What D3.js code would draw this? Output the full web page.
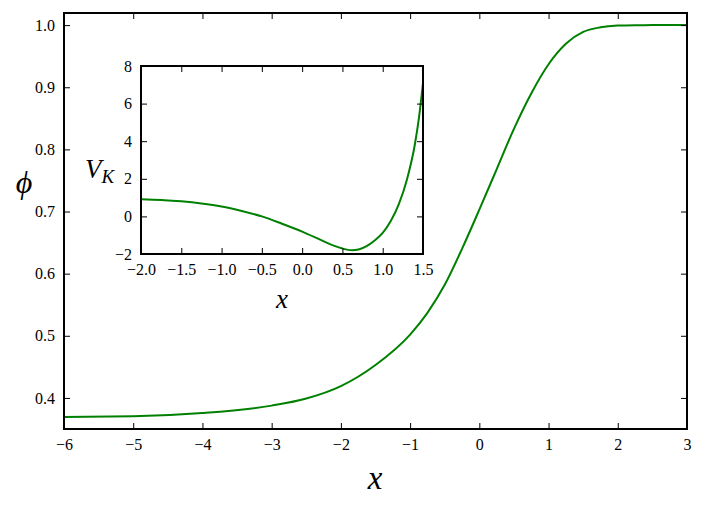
<!DOCTYPE html>
<meta charset="utf-8" />
<html>
<head>
<title>phi and V_K</title>
<script src="https://cdn.jsdelivr.net/npm/d3@7"></script>
<style>
  body { margin: 0; background: #fff; }
  svg text { fill: #000; font-family: "Liberation Serif", "DejaVu Serif", serif !important; }
  .tick text { font-size: 16px; }
  .tick line { stroke: #000; stroke-width: 1; }
</style>
</head>
<body>
<div id="viz"></div>
<script>

// main curve phi(x)
var mainX   = [-6, -5, -4, -3, -2.5, -2, -1.5, -1, -0.75, -0.5, -0.25, 0, 0.25, 0.5, 0.75, 1, 1.25, 1.5, 1.75, 2, 2.25, 2.5, 3];
var mainPhi = [0.3695, 0.3705, 0.3757, 0.3876, 0.399, 0.419, 0.453, 0.502, 0.537, 0.582, 0.640, 0.703, 0.768, 0.833, 0.890, 0.937, 0.970, 0.989, 0.9965, 0.9993, 0.9999, 1.0, 1.0];
var mainXTicks = [-6, -5, -4, -3, -2, -1, 0, 1, 2, 3];
var mainYTicks = [0.4, 0.5, 0.6, 0.7, 0.8, 0.9, 1.0];

// inset curve V_K(x)
var insetX = [-2, -1.75, -1.5, -1.25, -1, -0.75, -0.5, -0.25, 0, 0.25, 0.4, 0.5, 0.62, 0.7, 0.8, 0.9, 1.0, 1.1, 1.2, 1.3, 1.4, 1.45, 1.5];
var insetV = [0.91, 0.87, 0.80, 0.69, 0.53, 0.29, 0.0, -0.39, -0.81, -1.29, -1.57, -1.71, -1.80, -1.76, -1.58, -1.28, -0.88, -0.25, 0.65, 1.95, 3.85, 5.25, 7.1];
var insetXTicks = [-2.0, -1.5, -1.0, -0.5, 0.0, 0.5, 1.0, 1.5];
var insetYTicks = [-2, 0, 2, 4, 6, 8];

var width = 706, height = 511;
var svg = d3.select("#viz").append("svg")
    .attr("width", width)
    .attr("height", height);

var green = "#008000";
var tick = 6;

function panel(box, xDom, yDom, xTicks, yTicks, xFmt, yFmt, xs, ys) {
  var x = d3.scaleLinear().domain(xDom).range([box.left, box.right]);
  var y = d3.scaleLinear().domain(yDom).range([box.bottom, box.top]);
  var g = svg.append("g");

  // white background (the inset sits on the main plot)
  g.append("rect")
    .attr("x", box.left).attr("y", box.top)
    .attr("width", box.right - box.left).attr("height", box.bottom - box.top)
    .style("fill", "#fff");

  var line = d3.line()
    .x(function(d) { return x(d[0]); })
    .y(function(d) { return y(d[1]); })
    .curve(d3.curveMonotoneX);
  g.append("path")
    .datum(d3.zip(xs, ys))
    .attr("d", line)
    .style("fill", "none")
    .style("stroke", green)
    .style("stroke-width", 2);

  // inward ticks on all four sides, labels only bottom + left
  var axes = [
    g.append("g").attr("transform", "translate(0," + box.bottom + ")")
      .call(d3.axisBottom(x).tickValues(xTicks).tickFormat(xFmt).tickSizeInner(-tick).tickSizeOuter(0).tickPadding(10)),
    g.append("g").attr("transform", "translate(0," + box.top + ")")
      .call(d3.axisTop(x).tickValues(xTicks).tickFormat("").tickSizeInner(-tick).tickSizeOuter(0)),
    g.append("g").attr("transform", "translate(" + box.left + ",0)")
      .call(d3.axisLeft(y).tickValues(yTicks).tickFormat(yFmt).tickSizeInner(-tick).tickSizeOuter(0).tickPadding(9)),
    g.append("g").attr("transform", "translate(" + box.right + ",0)")
      .call(d3.axisRight(y).tickValues(yTicks).tickFormat("").tickSizeInner(-tick).tickSizeOuter(0))
  ];
  axes.forEach(function(a) {
    a.attr("font-family", null).attr("font-size", null);
    a.select(".domain").remove();
  });

  g.append("rect")
    .attr("x", box.left).attr("y", box.top)
    .attr("width", box.right - box.left).attr("height", box.bottom - box.top)
    .style("fill", "none")
    .style("stroke", "#000")
    .style("stroke-width", 2);
  return g;
}

var main = panel({left: 64, right: 687, top: 13, bottom: 429},
  [-6, 3], [0.35, 1.0195], mainXTicks, mainYTicks,
  d3.format("d"), d3.format(".1f"), mainX, mainPhi);

var inset = panel({left: 141, right: 423, top: 66, bottom: 254},
  [-2, 1.5], [-2, 8], insetXTicks, insetYTicks,
  d3.format(".1f"), d3.format("d"), insetX, insetV);

// axis labels
function label(x, y, size, s) {
  return svg.append("text")
    .attr("x", x).attr("y", y)
    .attr("text-anchor", "middle")
    .style("font-style", "italic").style("font-size", size + "px")
    .text(s);
}
label(375, 489, 33, "x");
label(24, 193, 32, "\u03d5");
label(282, 308, 27, "x");

var vk = svg.append("text")
  .attr("x", 85).attr("y", 178)
  .style("font-style", "italic").style("font-size", "27px");
vk.append("tspan").text("V");
vk.append("tspan").attr("dy", 5).style("font-size", "19px").text("K");

</script>
</body>
</html>
